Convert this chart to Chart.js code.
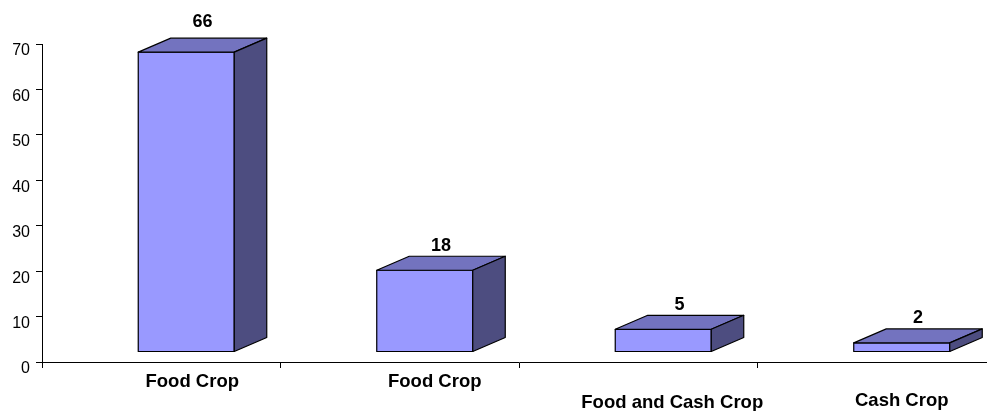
<!DOCTYPE html>
<html>
<head>
<meta charset="utf-8">
<script src="https://cdn.jsdelivr.net/npm/chart.js@4"></script>
<style>
  html, body { margin: 0; padding: 0; background: #fff; overflow: hidden; width: 987px; height: 411px; }
  #wrap { width: 987px; height: 411px; overflow: hidden; }
  canvas { display: block; }
</style>
</head>
<body>
<div id="wrap"><canvas id="chart" width="997" height="411"></canvas></div>
<script>
const categories = ["Food Crop", "Food Crop", "Food and Cash Crop", "Cash Crop"];
const values = [66, 18, 5, 2];
const yTicks = [0, 10, 20, 30, 40, 50, 60, 70];

// the picture's labels are not centred or level, so each one gets its own nudge
const labelShiftX = [31, 35, 34, 25];
const labelY = [382, 382, 403, 401];
const valueGap = [16, 10, 10, 11];

// fake 3d box: front face is moved off the axis, depth goes up and to the right
const frontX = 25, frontY = -10, depthX = 32.5, depthY = -14;

const box3d = {
  id: "box3d",
  beforeDatasetDraw(chart) {
    chart.ctx.save();
    chart.ctx.translate(frontX, frontY);
  },
  afterDatasetDraw(chart) {
    const ctx = chart.ctx;
    const bars = chart.getDatasetMeta(0).data;
    ctx.lineWidth = 1.2;
    ctx.strokeStyle = "#000";
    ctx.lineJoin = "round";
    bars.forEach(bar => {
      const left = bar.x - bar.width / 2, right = bar.x + bar.width / 2;
      const top = bar.y, bottom = bar.base;
      ctx.strokeRect(left, top, bar.width, bottom - top);
      ctx.fillStyle = "#7373BF";
      ctx.beginPath();
      ctx.moveTo(left, top);
      ctx.lineTo(left + depthX, top + depthY);
      ctx.lineTo(right + depthX, top + depthY);
      ctx.lineTo(right, top);
      ctx.closePath();
      ctx.fill();
      ctx.stroke();
      ctx.fillStyle = "#4D4D80";
      ctx.beginPath();
      ctx.moveTo(right, top);
      ctx.lineTo(right + depthX, top + depthY);
      ctx.lineTo(right + depthX, bottom + depthY);
      ctx.lineTo(right, bottom);
      ctx.closePath();
      ctx.fill();
      ctx.stroke();
    });
    ctx.restore();
  },
  afterDraw(chart) {
    const ctx = chart.ctx;
    const bars = chart.getDatasetMeta(0).data;
    ctx.save();
    ctx.fillStyle = "#000";
    ctx.textAlign = "center";
    ctx.textBaseline = "middle";
    bars.forEach((bar, i) => {
      ctx.font = "bold 18px 'Liberation Sans', Arial, sans-serif";
      ctx.fillText(String(values[i]), bar.x + frontX + depthX / 2, bar.y + frontY + depthY - valueGap[i]);
      ctx.font = "bold 18.5px 'Liberation Sans', Arial, sans-serif";
      ctx.fillText(categories[i], bar.x + labelShiftX[i], labelY[i]);
    });
    ctx.restore();
  }
};

new Chart(document.getElementById("chart"), {
  type: "bar",
  data: {
    labels: categories,
    datasets: [{
      data: values,
      backgroundColor: "#9999FF",
      borderWidth: 0,
      barThickness: 96,
      clip: false
    }]
  },
  options: {
    responsive: false,
    animation: false,
    layout: { padding: { top: 44, right: 1, left: 0, bottom: 0 } },
    plugins: { legend: { display: false }, tooltip: { enabled: false } },
    scales: {
      x: {
        grid: { drawOnChartArea: false, color: "#000", tickLength: 6, offset: true },
        border: { color: "#000", width: 1 },
        ticks: { display: false },
        afterFit(scale) { scale.height = 49; }
      },
      y: {
        min: yTicks[0],
        max: yTicks[yTicks.length - 1],
        grid: { drawOnChartArea: false, color: "#000", tickLength: 6 },
        border: { color: "#000", width: 1 },
        ticks: {
          stepSize: 10,
          color: "#000",
          padding: 6,
          labelOffset: 7,
          font: { family: "'Liberation Sans', Arial, sans-serif", size: 16 }
        },
        afterFit(scale) { scale.width = 42; }
      }
    }
  },
  plugins: [box3d]
});
</script>
</body>
</html>
